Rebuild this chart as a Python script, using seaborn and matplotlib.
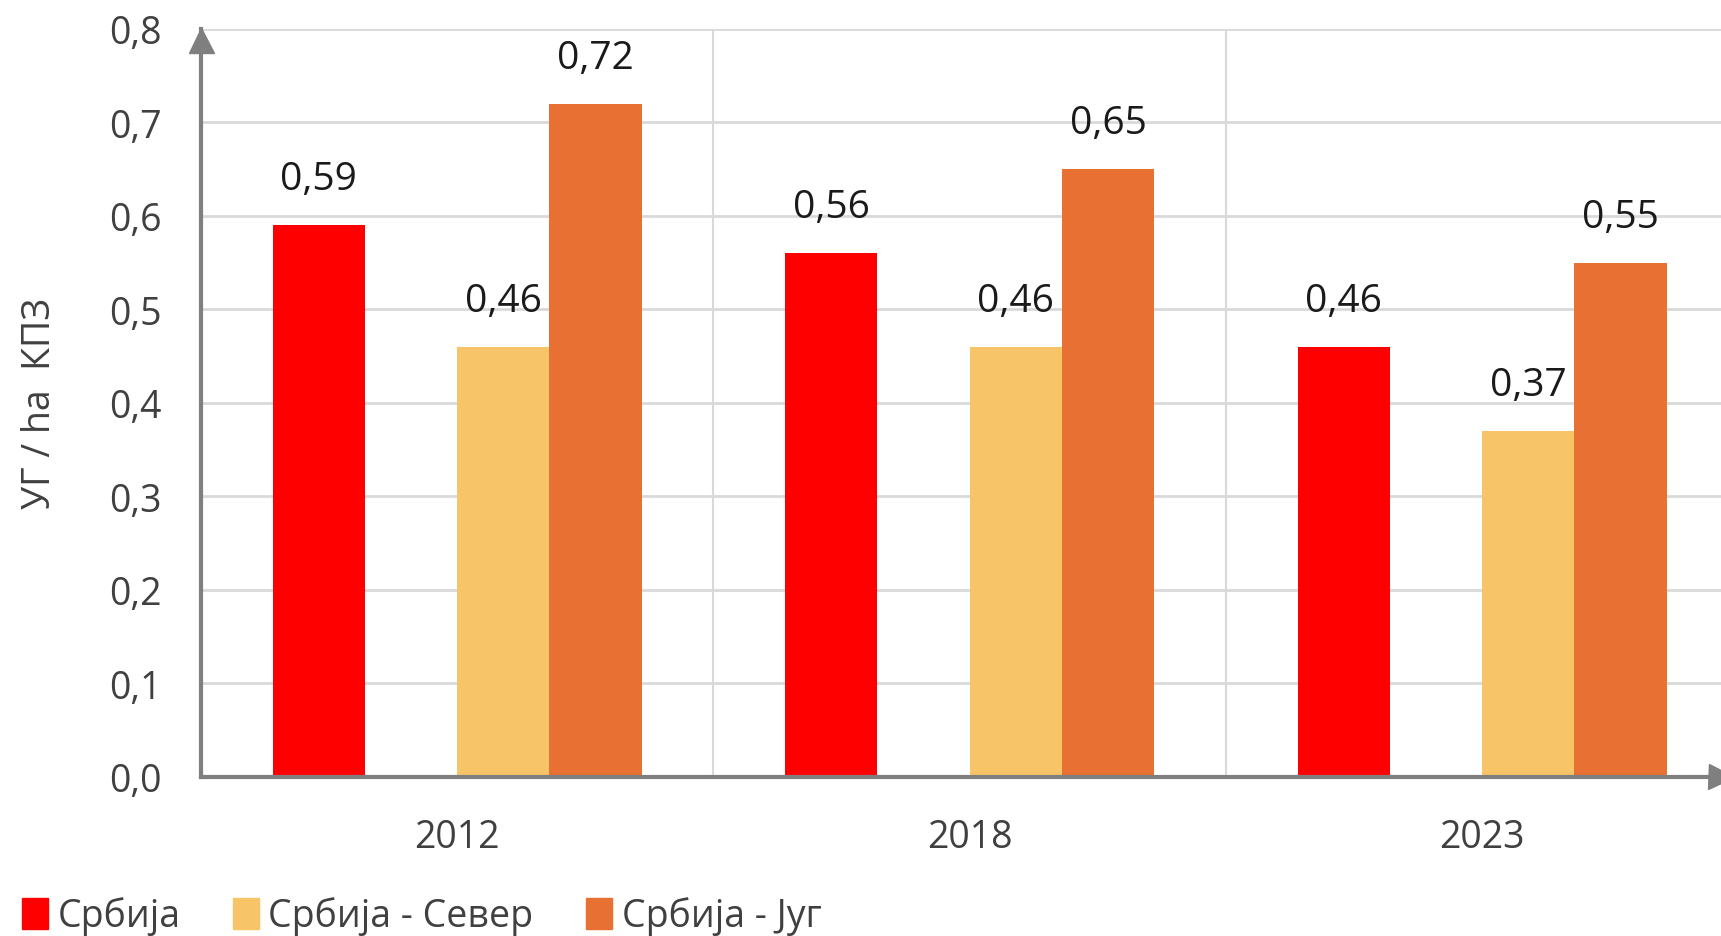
import pandas as pd
import seaborn as sns
import matplotlib.pyplot as plt
from matplotlib.patches import Patch


years = ['2012', '2018', '2023']
series = ['Србија', 'Србија - Север', 'Србија - Југ']
srbija = [0.59, 0.56, 0.46]
sever = [0.46, 0.46, 0.37]
jug = [0.72, 0.65, 0.55]
colors = ['#FF0000', '#F8C468', '#E87032']
yticks = [0.0, 0.1, 0.2, 0.3, 0.4, 0.5, 0.6, 0.7, 0.8]

df = pd.DataFrame({
    'year': years * 3,
    'series': [s for s in series for _ in years],
    'value': srbija + sever + jug,
})

# the original leaves an empty slot between Србија and the two regions
gap = ' '
order = [series[0], gap, series[1], series[2]]
palette = {series[0]: colors[0], gap: '#FFFFFF', series[1]: colors[1], series[2]: colors[2]}

sns.set_style('white')
plt.rcParams['font.family'] = ['Open Sans', 'DejaVu Sans']
text_col = '#404040'

fig = plt.figure(figsize=(17.21, 9.37), dpi=100)
ax = fig.add_axes([0.1167, 0.170, 0.8833, 0.798])

sns.barplot(data=df, x='year', y='value', hue='series', hue_order=order,
            palette=palette, width=0.72, saturation=1, legend=False,
            linewidth=0, ax=ax)

ax.set_ylim(0, 0.8)
ax.set_xlim(-0.5, 2.466)
ax.set_yticks(yticks)
ax.set_yticklabels([f'{v:.1f}'.replace('.', ',') for v in yticks])
ax.tick_params(axis='y', length=0, pad=28, labelsize=27, labelcolor=text_col)
ax.tick_params(axis='x', length=0, pad=30, labelsize=27, labelcolor=text_col)
ax.set_xlabel('')
ax.set_ylabel('УГ / ha  КПЗ', fontsize=27, color=text_col)
ax.yaxis.set_label_coords(-0.093, 0.5)

for v in yticks[1:]:
    ax.axhline(v, color='#D9D9D9', lw=2, zorder=0)
for x in [0.5, 1.5]:
    ax.axvline(x, color='#D9D9D9', lw=1.5, zorder=0)

for side in ['top', 'right']:
    ax.spines[side].set_visible(False)
for side in ['left', 'bottom']:
    ax.spines[side].set_color('#7F7F7F')
    ax.spines[side].set_linewidth(3)
    ax.spines[side].set_zorder(5)

# arrow heads on the axes
ax.plot(1, 0, marker='>', ms=18, color='#7F7F7F', transform=ax.transAxes,
        clip_on=False, zorder=6)
ax.plot(0, 0.985, marker='^', ms=18, color='#7F7F7F', transform=ax.transAxes,
        clip_on=False, zorder=6)

for bars in ax.containers:
    for bar in bars:
        h = bar.get_height()
        if h != h or h == 0:
            continue
        ax.annotate(f'{h:.2f}'.replace('.', ','), (bar.get_x() + bar.get_width() / 2, h),
                    xytext=(0, 33), textcoords='offset points', ha='center', va='center',
                    fontsize=28, color='#1A1A1A')

handles = [Patch(color=c, label=s) for s, c in zip(series, colors)]
fig.legend(handles=handles, loc='lower left', bbox_to_anchor=(-0.007, -0.035), ncol=3,
           frameon=False, fontsize=27, handlelength=0.7, handleheight=0.9,
           handletextpad=0.25, columnspacing=1.4, labelcolor=text_col)

fig.savefig('out.png', dpi=100)
